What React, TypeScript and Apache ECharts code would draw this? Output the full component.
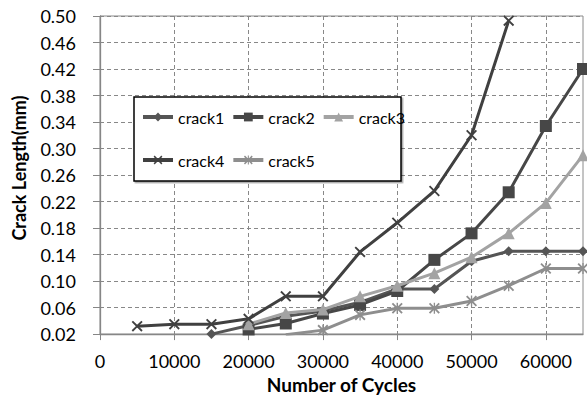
import React, { useEffect, useRef } from "react";
import * as echarts from "echarts";

const cycles = [5000, 10000, 15000, 20000, 25000, 30000, 35000, 40000, 45000, 50000, 55000, 60000, 65000];
const crack1 = [null, null, 0.02, 0.033, 0.047, 0.055, 0.068, 0.088, 0.088, 0.13, 0.145, 0.145, 0.145];
const crack2 = [null, null, null, 0.027, 0.036, 0.051, 0.064, 0.085, 0.132, 0.172, 0.234, 0.334, 0.42];
const crack3 = [null, null, null, 0.035, 0.052, 0.057, 0.077, 0.093, 0.112, 0.136, 0.172, 0.218, 0.29];
const crack4 = [0.032, 0.035, 0.035, 0.043, 0.077, 0.077, 0.144, 0.188, 0.236, 0.32, 0.493, null, null];
const crack5 = [null, null, null, null, 0.019, 0.026, 0.049, 0.059, 0.059, 0.07, 0.093, 0.119, 0.119];

const xTicks = [0, 10000, 20000, 30000, 40000, 50000, 60000];
const yTicks = [0.02, 0.06, 0.1, 0.14, 0.18, 0.22, 0.26, 0.3, 0.34, 0.38, 0.42, 0.46, 0.5];

const seriesNames = ["crack1", "crack2", "crack3", "crack4", "crack5"];
const seriesData = [crack1, crack2, crack3, crack4, crack5];
const colors = ["#555555", "#474747", "#a3a3a3", "#404040", "#8e8e8e"];

const xPath =
  "path://M0,1.2L1.2,0L5,3.8L8.8,0L10,1.2L6.2,5L10,8.8L8.8,10L5,6.2L1.2,10L0,8.8L3.8,5Z";
const starPath =
  "path://M0,1.2L1.2,0L5,3.8L8.8,0L10,1.2L6.2,5L10,8.8L8.8,10L5,6.2L1.2,10L0,8.8L3.8,5Z M4.4,0L5.6,0L5.6,10L4.4,10Z";
const symbols = ["diamond", "rect", "triangle", xPath, starPath];
const symbolSizes = [10, 12, 12, 11, 11];

const FONT = "Lato";

export default function App() {
  const ref = useRef<HTMLDivElement>(null);
  useEffect(() => {
    if (!ref.current) return;
    const chart = echarts.init(ref.current, null, { renderer: "svg" });
    const series = seriesNames.map((name, i) => ({
      name,
      type: "line",
      data: cycles.map((c, j) => [c, seriesData[i][j]]),
      symbol: symbols[i],
      symbolSize: symbolSizes[i],
      showAllSymbol: true,
      connectNulls: false,
      clip: true,
      lineStyle: { color: colors[i], width: 3 },
      itemStyle: { color: colors[i], borderWidth: 0 },
      z: 2 + i,
    }));
    const legendCommon = {
      itemWidth: 30,
      itemHeight: 11,
      itemGap: 7,
      padding: 0,
      selectedMode: false,
      orient: "horizontal",
      lineStyle: { width: 4 },
      textStyle: { fontFamily: FONT, fontSize: 16, color: "#000" },
      z: 10,
    };
    chart.setOption({
      animation: false,
      backgroundColor: "#fff",
      grid: {
        left: 100,
        right: 4,
        top: 16,
        bottom: 63,
        show: true,
        borderColor: "#8a8a8a",
        borderWidth: 1,
        backgroundColor: "transparent",
      },
      legend: [
        { ...legendCommon, left: 141, top: 109, data: seriesNames.slice(0, 3) },
        { ...legendCommon, left: 141, top: 152, data: seriesNames.slice(3) },
      ],
      graphic: [
        {
          type: "rect",
          shape: { x: 134, y: 97, width: 267, height: 84 },
          style: {
            fill: "#fff",
            stroke: "#000",
            lineWidth: 1.5,
            shadowColor: "rgba(0,0,0,0.35)",
            shadowOffsetX: 1.5,
            shadowOffsetY: 1.5,
            shadowBlur: 1,
          },
          z: 8,
        },
      ],
      xAxis: {
        type: "value",
        min: 0,
        max: 65000,
        name: "Number of Cycles",
        nameLocation: "middle",
        nameGap: 39,
        nameTextStyle: { fontFamily: FONT, fontSize: 19, fontWeight: "bold", color: "#000" },
        axisLine: { show: true, lineStyle: { color: "#868686", width: 1.3 } },
        axisTick: { show: true, length: 6, customValues: xTicks, lineStyle: { color: "#868686" } },
        axisLabel: {
          customValues: xTicks,
          fontFamily: FONT,
          fontSize: 18,
          color: "#000",
          margin: 18,
          formatter: (v: number) => String(v),
        },
        splitLine: { show: true, lineStyle: { color: "#888", type: [4, 3], width: 1 } },
      },
      yAxis: {
        type: "value",
        min: 0.02,
        max: 0.5,
        name: "Crack Length(mm)",
        nameLocation: "middle",
        nameGap: 72,
        nameRotate: 90,
        nameTextStyle: {
          fontFamily: FONT,
          fontSize: 18,
          fontWeight: "bold",
          color: "#000",
          padding: [0, 0, 0, 14],
        },
        axisLine: { show: true, lineStyle: { color: "#868686", width: 1.3 } },
        axisTick: { show: true, length: 7, customValues: yTicks, lineStyle: { color: "#868686" } },
        axisLabel: {
          customValues: yTicks,
          fontFamily: FONT,
          fontSize: 18,
          color: "#000",
          margin: 24,
          formatter: (v: number) => v.toFixed(2),
        },
        splitLine: { show: true, lineStyle: { color: "#888", type: [4, 3], width: 1 } },
      },
      series,
    });
    return () => chart.dispose();
  }, []);
  return <div ref={ref} style={{ width: 587, height: 399, position: "absolute", left: 0, top: 0 }} />;
}
